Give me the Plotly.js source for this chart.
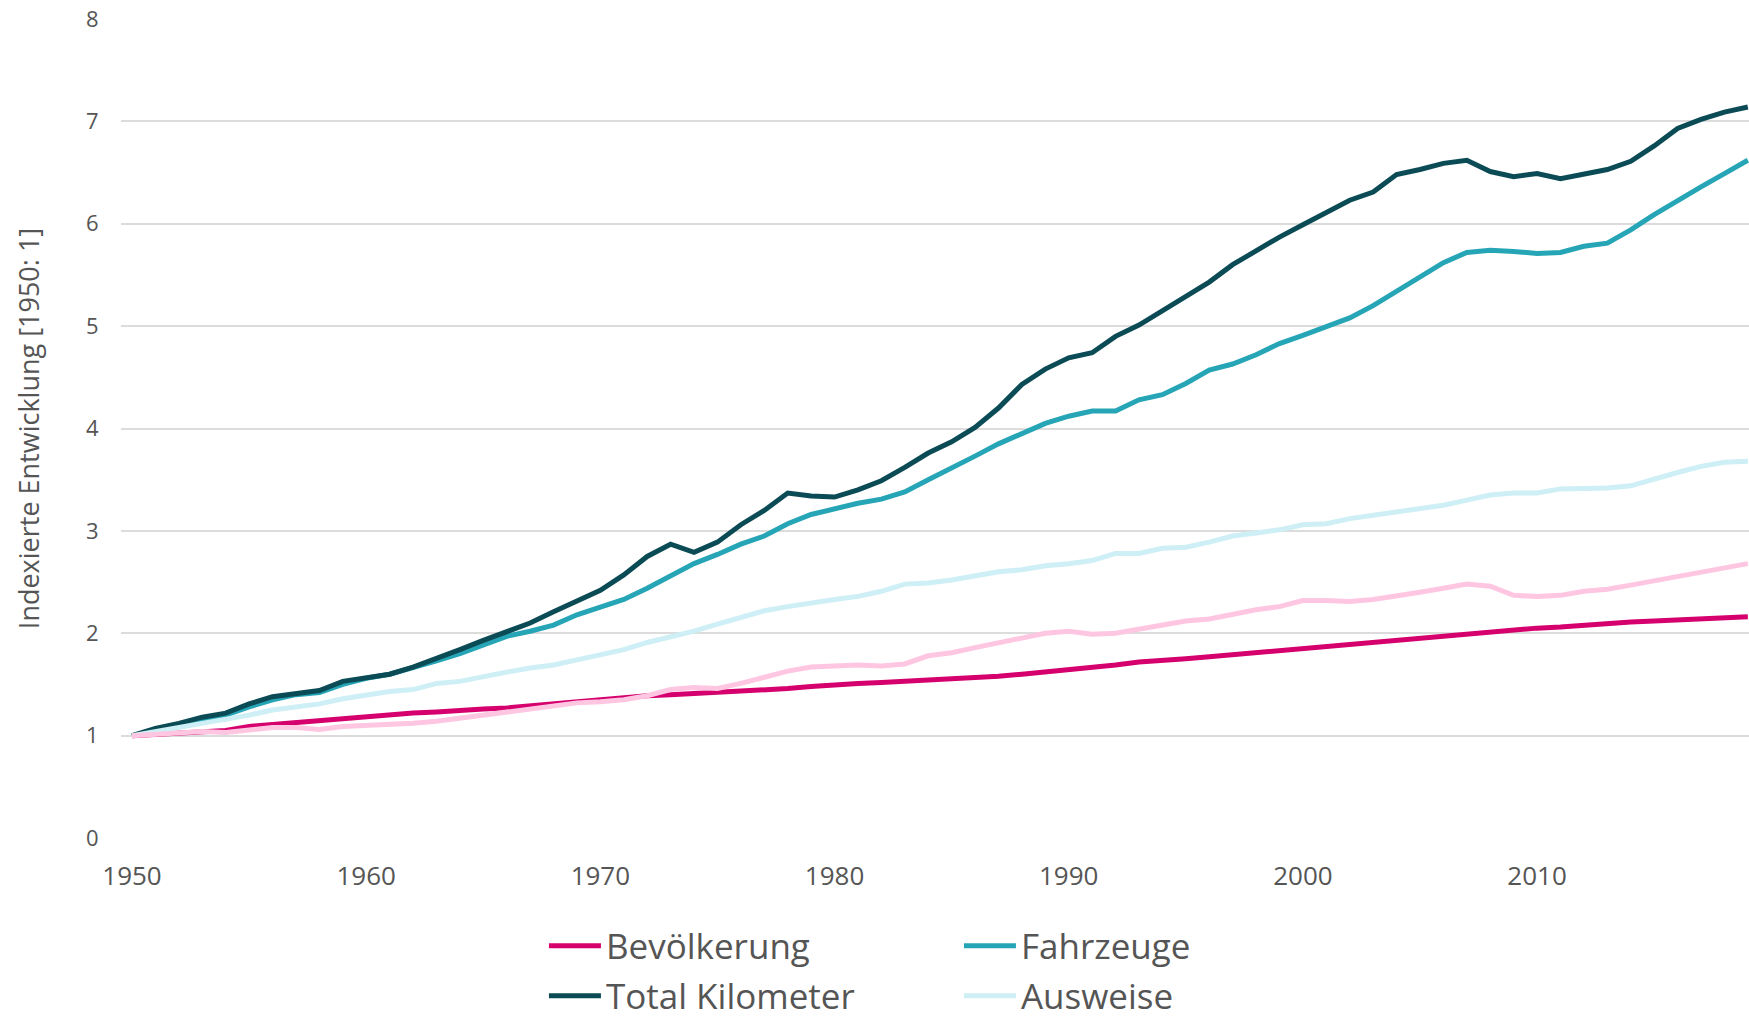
<!DOCTYPE html>
<html>
<head>
<meta charset="utf-8">
<script src="https://cdn.plot.ly/plotly-3.0.1.min.js"></script>
<style>html,body{margin:0;padding:0;background:#fff;}#chart{width:1749px;height:1016px;}</style>
</head>
<body>
<div id="chart"></div>
<script>
const years = [];
for (let y = 1950; y <= 2019; y++) years.push(y);

const bevoelkerung = [1.00,1.01,1.03,1.04,1.05,1.09,1.11,1.12,1.14,1.16,1.18,1.20,1.22,1.23,1.25,1.26,1.27,1.29,1.31,1.33,
  1.36,1.37,1.39,1.40,1.41,1.42,1.44,1.45,1.46,1.48,1.50,1.51,1.52,1.53,1.54,1.56,1.57,1.58,1.60,1.62,
  1.65,1.67,1.69,1.72,1.73,1.75,1.77,1.79,1.81,1.83,1.85,1.87,1.89,1.91,1.93,1.95,1.97,2.00,2.02,2.04,
  2.05,2.06,2.08,2.09,2.11,2.12,2.13,2.14,2.15,2.16];

const fahrzeuge = [1.00,1.05,1.10,1.15,1.20,1.28,1.35,1.40,1.42,1.50,1.56,1.60,1.66,1.73,1.80,1.88,1.97,2.02,2.08,2.18,
  2.26,2.33,2.44,2.56,2.68,2.77,2.87,2.95,3.07,3.16,3.22,3.27,3.31,3.38,3.50,3.61,3.73,3.85,3.95,4.05,
  4.12,4.17,4.17,4.28,4.33,4.44,4.57,4.63,4.72,4.83,4.91,4.99,5.08,5.20,5.34,5.48,5.62,5.72,5.74,5.73,
  5.71,5.72,5.78,5.81,5.94,6.09,6.23,6.36,6.49,6.62];

const totalKilometer = [1.00,1.07,1.12,1.18,1.22,1.31,1.38,1.41,1.44,1.53,1.56,1.60,1.67,1.75,1.84,1.93,2.02,2.10,2.21,2.31,
  2.42,2.57,2.75,2.87,2.79,2.89,3.06,3.20,3.37,3.34,3.33,3.40,3.49,3.62,3.76,3.87,4.01,4.20,4.43,4.58,
  4.69,4.74,4.90,5.01,5.15,5.29,5.43,5.60,5.74,5.87,5.99,6.11,6.23,6.31,6.48,6.53,6.59,6.62,6.51,6.46,
  6.49,6.44,6.49,6.53,6.61,6.76,6.93,7.02,7.09,7.14];

const ausweise = [1.00,1.04,1.08,1.12,1.15,1.20,1.25,1.28,1.31,1.36,1.40,1.43,1.45,1.51,1.53,1.58,1.62,1.66,1.69,1.74,
  1.79,1.84,1.91,1.96,2.02,2.09,2.15,2.22,2.26,2.30,2.33,2.36,2.41,2.48,2.49,2.52,2.56,2.60,2.62,2.66,
  2.68,2.71,2.78,2.78,2.83,2.84,2.89,2.95,2.98,3.01,3.06,3.07,3.12,3.15,3.19,3.22,3.25,3.30,3.35,3.37,
  3.37,3.41,3.41,3.42,3.44,3.51,3.57,3.63,3.67,3.68];

const rosa = [1.00,1.01,1.03,1.04,1.03,1.06,1.08,1.08,1.06,1.09,1.10,1.10,1.12,1.14,1.17,1.20,1.23,1.26,1.30,1.32,
  1.33,1.35,1.39,1.45,1.47,1.46,1.51,1.57,1.63,1.67,1.68,1.69,1.68,1.70,1.78,1.81,1.86,1.91,1.96,2.00,
  2.02,1.99,2.00,2.04,2.08,2.12,2.14,2.19,2.23,2.26,2.32,2.32,2.31,2.33,2.36,2.40,2.44,2.48,2.46,2.37,
  2.36,2.37,2.41,2.43,2.47,2.51,2.56,2.59,2.64,2.68];

const seriesNames = ["Bevölkerung", "Fahrzeuge", "Total Kilometer", "Ausweise"];
const colors = ["#D5006D", "#25A5B5", "#0B4B55", "#CDEFF5", "#FFC6E2"];

const FONT = "'Open Sans', 'Noto Sans', sans-serif";

function tr(y, name, color, show, legend) {
  return {
    x: years, y: y, name: name, type: "scatter", mode: "lines",
    line: {color: color, width: 5},
    showlegend: show, legend: legend, hoverinfo: "skip"
  };
}

const data = [
  tr(bevoelkerung, seriesNames[0], colors[0], true, "legend"),
  tr(fahrzeuge, seriesNames[1], colors[1], true, "legend"),
  tr(totalKilometer, seriesNames[2], colors[2], true, "legend2"),
  tr(ausweise, seriesNames[3], colors[3], true, "legend2"),
  tr(rosa, "", colors[4], false, "legend")
];

function legendCfg(yPos) {
  return {
    orientation: "h",
    xref: "container", yref: "container",
    x: 0.311, xanchor: "left",
    y: yPos, yanchor: "middle",
    entrywidth: 348, entrywidthmode: "pixels",
    itemwidth: 52,
    font: {size: 35, color: "#555", family: FONT},
    bgcolor: "rgba(0,0,0,0)"
  };
}

const layout = {
  width: 1749, height: 1016,
  paper_bgcolor: "#fff", plot_bgcolor: "#fff",
  margin: {l: 121, r: 0, t: 19, b: 178},
  font: {family: FONT, color: "#555"},
  xaxis: {
    range: [1949.53, 2019.05],
    tickvals: [1950, 1960, 1970, 1980, 1990, 2000, 2010],
    ticktext: ["1950", "1960", "1970", "1980", "1990", "2000", "2010"],
    showgrid: false, zeroline: false, showline: false,
    ticks: "outside", ticklen: 15, tickcolor: "rgba(0,0,0,0)",
    tickfont: {size: 26, color: "#555", family: FONT}
  },
  yaxis: {
    range: [0, 8],
    tickvals: [0, 1, 2, 3, 4, 5, 6, 7, 8],
    ticktext: ["0", "1", "2", "3", "4", "5", "6", "7", "8"],
    showgrid: true, gridcolor: "#dcdcdc", gridwidth: 2,
    zeroline: false, showline: false,
    ticks: "outside", ticklen: 17, tickcolor: "rgba(0,0,0,0)",
    tickfont: {size: 22, color: "#555", family: FONT},
    title: {text: "Indexierte Entwicklung [1950: 1]", font: {size: 27, color: "#555", family: FONT}, standoff: 38}
  },
  showlegend: true,
  legend: legendCfg(1 - 946 / 1016),
  legend2: legendCfg(1 - 996 / 1016)
};

Plotly.newPlot("chart", data, layout, {displayModeBar: false, staticPlot: true});
</script>
</body>
</html>
